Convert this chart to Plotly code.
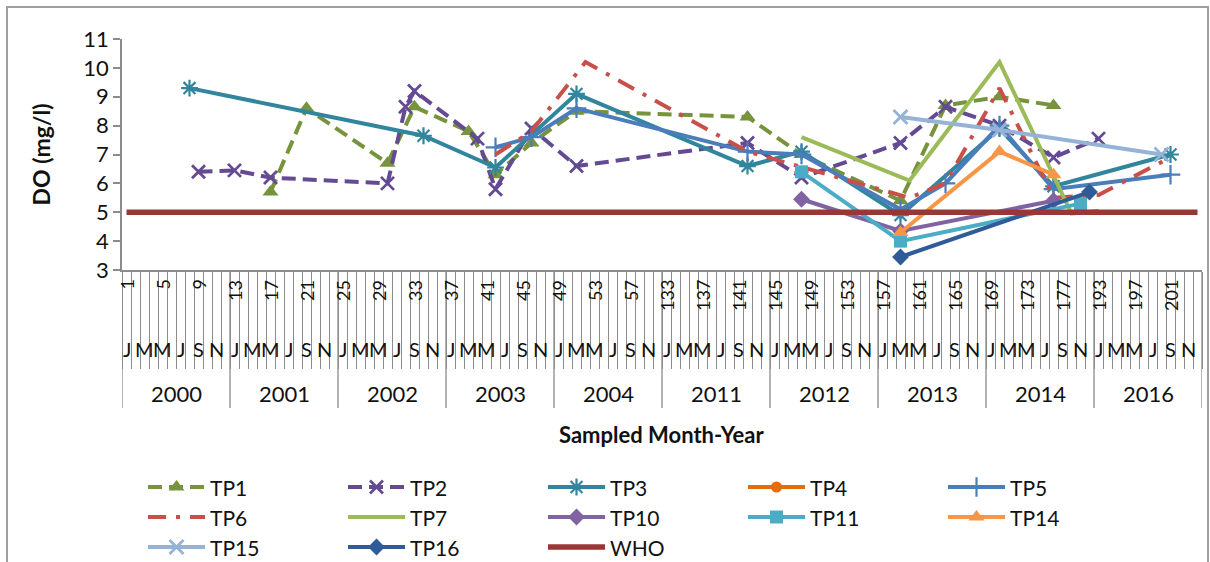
import plotly.graph_objects as go

# ---------------- data ----------------
years = [2000, 2001, 2002, 2003, 2004, 2011, 2012, 2013, 2014, 2016]
month_letters = ["J", "F", "M", "A", "M", "J", "J", "A", "S", "O", "N", "D"]
shown_months = [0, 2, 4, 6, 8, 10]          # J M M J S N are printed
# category = running month number since Jan-2000 (as printed on the axis)
categories = [(y - 2000) * 12 + m for y in years for m in range(1, 13)]
number_label_step = 4

TP1_x = [17, 21, 30, 33, 39, 42, 46, 51, 142, 148, 159, 164, 170, 176]
TP1_y = [5.7, 8.6, 6.7, 8.65, 7.8, 6.3, 7.4, 8.5, 8.3, 7.0, 5.4, 8.7, 9.0, 8.7]

TP2_x = [9, 13, 17, 30, 32, 33, 40, 42, 46, 51, 142, 148, 159, 164, 170, 176, 193]
TP2_y = [6.4, 6.45, 6.2, 6.0, 8.65, 9.2, 7.55, 5.8, 7.9, 6.6, 7.4, 6.2, 7.4, 8.65, 8.0, 6.9, 7.55]

TP3_x = [8, 34, 42, 51, 142, 148, 159, 170, 176, 201]
TP3_y = [9.3, 7.65, 6.55, 9.1, 6.6, 7.1, 4.9, 7.9, 5.9, 7.0]

TP4_x = []
TP4_y = []

TP5_x = [42, 46, 51, 142, 148, 159, 164, 170, 176, 201]
TP5_y = [7.25, 7.6, 8.6, 7.1, 7.0, 5.1, 6.0, 8.0, 5.8, 6.3]

TP6_x = [42, 46, 52, 142, 160, 164, 170, 176, 193, 201]
TP6_y = [7.0, 7.8, 10.2, 7.1, 5.5, 6.0, 9.3, 5.5, 5.6, 6.9]

TP7_x = [148, 160, 170, 178, 193]
TP7_y = [7.6, 6.1, 10.2, 4.95, 5.05]

TP10_x = [148, 159, 176]
TP10_y = [5.45, 4.35, 5.4]

TP11_x = [148, 159, 179]
TP11_y = [6.4, 4.0, 5.3]

TP14_x = [159, 170, 176]
TP14_y = [4.3, 7.1, 6.3]

TP15_x = [159, 170, 200]
TP15_y = [8.3, 7.85, 7.0]

TP16_x = [159, 180]
TP16_y = [3.45, 5.7]

WHO_limit = 5

# ---------------- styles ----------------
FONT = "Lato"
STYLE = {
    "TP1": dict(color="#77933C", dash="14px,7px", symbol="triangle-up", size=14, mline=0),
    "TP2": dict(color="#634A92", dash="14px,7px", symbol="x-thin", size=13, mline=2.8),
    "TP3": dict(color="#31859C", dash="solid", symbol="asterisk", size=14, mline=2.2),
    "TP4": dict(color="#E46C0A", dash="solid", symbol="circle", size=11, mline=0),
    "TP5": dict(color="#4A7EBB", dash="solid", symbol="cross-thin", size=14, mline=2.2),
    "TP6": dict(color="#C8504B", dash="18px,10px,4px,10px", symbol=None, size=0, mline=0),
    "TP7": dict(color="#9BBB59", dash="solid", symbol=None, size=0, mline=0),
    "TP10": dict(color="#8064A2", dash="solid", symbol="diamond", size=13, mline=0),
    "TP11": dict(color="#4BACC6", dash="solid", symbol="square", size=13, mline=0),
    "TP14": dict(color="#F79646", dash="solid", symbol="triangle-up", size=14, mline=0),
    "TP15": dict(color="#95B3D7", dash="solid", symbol="x-thin", size=14, mline=2.8),
    "TP16": dict(color="#2F5B98", dash="solid", symbol="diamond", size=13, mline=0),
    "WHO": dict(color="#993735", dash="solid", symbol=None, size=0, mline=0, width=5.5),
}

series = [
    ("TP1", TP1_x, TP1_y), ("TP2", TP2_x, TP2_y), ("TP3", TP3_x, TP3_y),
    ("TP4", TP4_x, TP4_y), ("TP5", TP5_x, TP5_y), ("TP6", TP6_x, TP6_y),
    ("TP7", TP7_x, TP7_y), ("TP10", TP10_x, TP10_y), ("TP11", TP11_x, TP11_y),
    ("TP14", TP14_x, TP14_y), ("TP15", TP15_x, TP15_y), ("TP16", TP16_x, TP16_y),
    ("WHO", categories, [WHO_limit] * len(categories)),
]

pos = {c: i for i, c in enumerate(categories)}
n = len(categories)

W, H = 1210, 562
PX0, PX1, PY0, PY1 = 122, 1202, 39, 270   # plot area in pixels


def fx(px):
    return px / W


def fy(py):
    return (H - py) / H


fig = go.Figure()


def scatter(name, xs, ys, st, xaxis="x", yaxis="y", markers_only=False, lines_only=False):
    width = st.get("width", 4)
    if markers_only:
        mode = "markers"
    elif lines_only or not st["symbol"]:
        mode = "lines"
    else:
        mode = "lines+markers"
    return go.Scatter(
        x=xs, y=ys, name=name, mode=mode, xaxis=xaxis, yaxis=yaxis, showlegend=False,
        line=dict(color=st["color"], width=width, dash=st["dash"]),
        marker=dict(symbol=st["symbol"] or "circle", size=st["size"], color=st["color"],
                    line=dict(width=st["mline"], color=st["color"])),
        hoverinfo="skip" if xaxis != "x" else None)


for name, xs, ys in series:
    fig.add_trace(scatter(name, [pos[c] for c in xs], ys, STYLE[name]))

# ---------------- custom legend (pixel space axes x2/y2) ----------------
LEG_X0, LEG_Y0, LEG_DX, LEG_DY, LEG_LEN, COLS = 148, 487, 200, 30, 57, 5
ann = []
for j, (name, _, _) in enumerate(series):
    r, c = divmod(j, COLS)
    x0 = LEG_X0 + c * LEG_DX
    yy = LEG_Y0 + r * LEG_DY
    st = STYLE[name]
    fig.add_trace(scatter(name, [x0, x0 + LEG_LEN], [yy, yy], st, "x2", "y2", lines_only=True))
    if st["symbol"]:
        fig.add_trace(scatter(name, [x0 + LEG_LEN / 2], [yy], st, "x2", "y2", markers_only=True))
    ann.append(dict(x=fx(x0 + LEG_LEN + 3), xref="paper", y=fy(yy), yref="paper", text=name,
                    xanchor="left", yanchor="middle", showarrow=False,
                    font=dict(family=FONT, size=21, color="#111")))

grey = "#8C8C8C"
# rotated running-number labels
for k in range(0, n, number_label_step):
    ann.append(dict(x=k, xref="x", y=fy(278), yref="paper", text=str(categories[k]),
                    textangle=-90, xanchor="center", yanchor="top", showarrow=False,
                    font=dict(family=FONT, size=18, color="#111")))
# month letters
for k in range(n):
    if k % 12 in shown_months:
        ann.append(dict(x=k, xref="x", y=fy(349), yref="paper",
                        text=month_letters[k % 12], xanchor="center", yanchor="middle",
                        showarrow=False, font=dict(family=FONT, size=20, color="#111")))
# years
for b, yr in enumerate(years):
    ann.append(dict(x=12 * b + 5.5, xref="x", y=fy(393), yref="paper", text=str(yr),
                    xanchor="center", yanchor="middle", showarrow=False,
                    font=dict(family=FONT, size=22, color="#111")))
# axis titles
ann.append(dict(x=fx((PX0 + PX1) / 2), xref="paper", y=fy(434), yref="paper",
                text="<b>Sampled Month-Year</b>", xanchor="center", yanchor="middle",
                showarrow=False, font=dict(family=FONT, size=22, color="#111")))
ann.append(dict(x=fx(40), xref="paper", y=fy((PY0 + PY1) / 2), yref="paper",
                text="<b>DO (mg/l)</b>", textangle=-90, xanchor="center", yanchor="middle",
                showarrow=False, font=dict(family=FONT, size=23, color="#111")))

shapes = []
for b in range(len(years) + 1):
    shapes.append(dict(type="line", xref="x", yref="paper", x0=12 * b - 0.5, x1=12 * b - 0.5,
                       y0=fy(PY1), y1=fy(408), line=dict(color=grey, width=1.3)))
shapes.append(dict(type="rect", xref="paper", yref="paper", x0=fx(7), x1=fx(1208),
                   y0=fy(7), y1=fy(620), line=dict(color="#A0A0A0", width=2)))

fig.update_layout(
    width=W, height=H,
    margin=dict(l=0, r=0, t=0, b=0, autoexpand=False),
    paper_bgcolor="white", plot_bgcolor="rgba(0,0,0,0)",
    font=dict(family=FONT, size=20, color="#111"),
    showlegend=False,
    xaxis=dict(domain=[fx(PX0), fx(PX1)], anchor="y",
               range=[-0.5, n - 0.5], showgrid=False, zeroline=False,
               showline=True, linecolor=grey, linewidth=1.5,
               tickmode="array", tickvals=[k - 0.5 for k in range(n + 1)],
               ticks="outside", ticklen=97, tickwidth=1.2, tickcolor=grey,
               showticklabels=False),
    yaxis=dict(domain=[fy(PY1), fy(PY0)], anchor="x",
               range=[3, 11], dtick=1, showgrid=False, zeroline=False,
               showline=True, linecolor=grey, linewidth=1.5,
               ticks="outside", ticklen=7, tickcolor=grey, tickwidth=1.5,
               tickfont=dict(family=FONT, size=22, color="#111")),
    xaxis2=dict(domain=[0, 1], anchor="y2", range=[0, W], visible=False, fixedrange=True),
    yaxis2=dict(domain=[0, 1], anchor="x2", range=[H, 0], visible=False, fixedrange=True),
    annotations=ann, shapes=shapes,
)

fig.write_html("out.html")
